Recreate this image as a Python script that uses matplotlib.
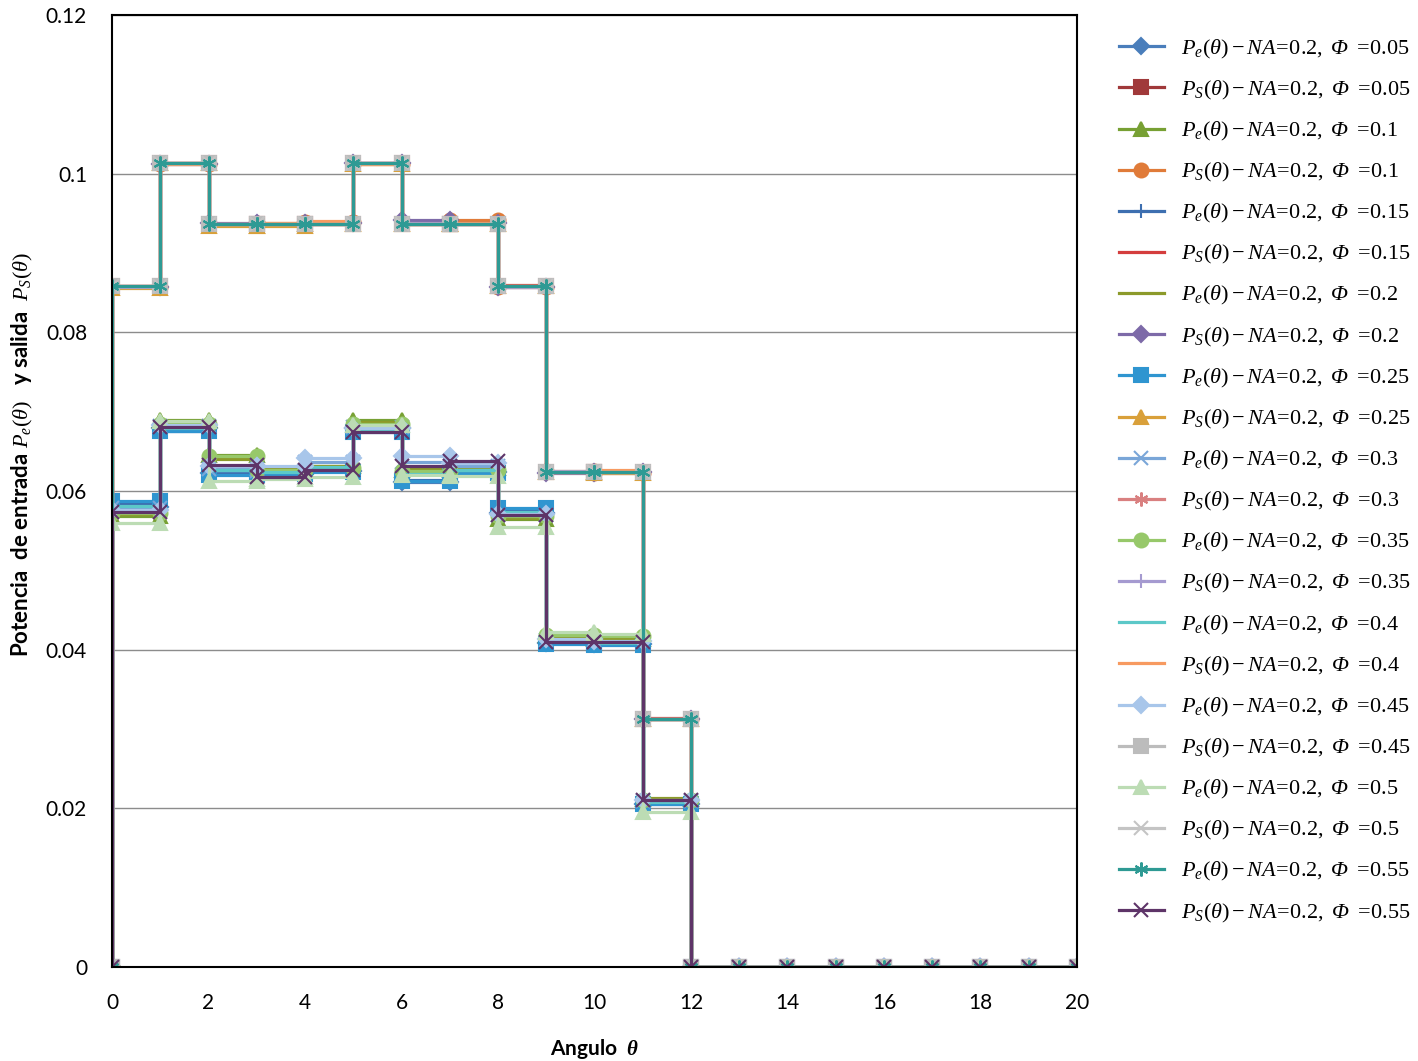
import matplotlib
matplotlib.use('Agg')
import matplotlib.pyplot as plt
import numpy as np

plt.rcParams['mathtext.fontset'] = 'custom'
plt.rcParams['mathtext.rm'] = 'Liberation Serif'
plt.rcParams['mathtext.it'] = 'Liberation Serif:italic'
plt.rcParams['mathtext.sf'] = 'Liberation Serif:italic'
plt.rcParams['mathtext.bf'] = 'Liberation Serif:bold'
plt.rcParams['mathtext.bfit'] = 'Liberation Serif:italic:bold'

# angulo theta (bordes de los escalones)
theta_edges = list(range(0, 21))
n_bins = 12

phi = ['0.05', '0.1', '0.15', '0.2', '0.25', '0.3', '0.35', '0.4', '0.45', '0.5', '0.55']

# Pe(theta) para phi 0.05 .. 0.55
pe_values = [
    [0.0580, 0.0679, 0.0623, 0.0622, 0.0625, 0.0679, 0.0611, 0.0624, 0.0572, 0.0408, 0.0407, 0.0206],
    [0.0569, 0.0689, 0.0645, 0.0630, 0.0631, 0.0690, 0.0627, 0.0629, 0.0565, 0.0418, 0.0414, 0.0212],
    [0.0583, 0.0676, 0.0621, 0.0620, 0.0626, 0.0676, 0.0614, 0.0625, 0.0577, 0.0409, 0.0409, 0.0207],
    [0.0571, 0.0686, 0.0640, 0.0628, 0.0632, 0.0687, 0.0629, 0.0630, 0.0566, 0.0416, 0.0413, 0.0213],
    [0.0587, 0.0675, 0.0620, 0.0621, 0.0624, 0.0674, 0.0612, 0.0623, 0.0579, 0.0407, 0.0406, 0.0205],
    [0.0578, 0.0682, 0.0628, 0.0625, 0.0636, 0.0681, 0.0636, 0.0632, 0.0570, 0.0412, 0.0410, 0.0209],
    [0.0572, 0.0684, 0.0644, 0.0627, 0.0629, 0.0685, 0.0625, 0.0627, 0.0568, 0.0419, 0.0417, 0.0211],
    [0.0581, 0.0679, 0.0626, 0.0624, 0.0630, 0.0678, 0.0622, 0.0626, 0.0574, 0.0411, 0.0408, 0.0208],
    [0.0576, 0.0683, 0.0631, 0.0631, 0.0642, 0.0680, 0.0644, 0.0635, 0.0571, 0.0414, 0.0411, 0.0210],
    [0.0560, 0.0688, 0.0612, 0.0615, 0.0618, 0.0683, 0.0620, 0.0619, 0.0555, 0.0422, 0.0420, 0.0195],
    [0.0858, 0.1013, 0.0937, 0.0937, 0.0937, 0.1013, 0.0937, 0.0937, 0.0858, 0.0624, 0.0624, 0.0313],
]

# Ps(theta) para phi 0.05 .. 0.55
ps_values = [
    [0.0858, 0.1013, 0.0937, 0.0937, 0.0937, 0.1013, 0.0937, 0.0937, 0.0858, 0.0624, 0.0624, 0.0313],
    [0.0857, 0.1012, 0.0936, 0.0938, 0.0939, 0.1012, 0.0938, 0.0941, 0.0857, 0.0625, 0.0623, 0.0312],
    [0.0858, 0.1013, 0.0937, 0.0936, 0.0937, 0.1014, 0.0936, 0.0937, 0.0859, 0.0624, 0.0625, 0.0314],
    [0.0857, 0.1012, 0.0938, 0.0937, 0.0938, 0.1013, 0.0941, 0.0938, 0.0857, 0.0623, 0.0624, 0.0313],
    [0.0856, 0.1013, 0.0934, 0.0934, 0.0936, 0.1012, 0.0937, 0.0936, 0.0858, 0.0624, 0.0623, 0.0312],
    [0.0858, 0.1014, 0.0937, 0.0937, 0.0937, 0.1013, 0.0937, 0.0937, 0.0858, 0.0624, 0.0624, 0.0313],
    [0.0857, 0.1013, 0.0936, 0.0937, 0.0938, 0.1013, 0.0938, 0.0937, 0.0857, 0.0625, 0.0624, 0.0313],
    [0.0858, 0.1012, 0.0937, 0.0938, 0.0940, 0.1012, 0.0937, 0.0938, 0.0858, 0.0624, 0.0626, 0.0312],
    [0.0858, 0.1013, 0.0937, 0.0937, 0.0937, 0.1013, 0.0937, 0.0937, 0.0858, 0.0624, 0.0624, 0.0313],
    [0.0858, 0.1013, 0.0937, 0.0937, 0.0937, 0.1013, 0.0937, 0.0937, 0.0858, 0.0624, 0.0624, 0.0313],
    [0.0574, 0.0681, 0.0633, 0.0618, 0.0627, 0.0674, 0.0632, 0.0638, 0.0570, 0.0410, 0.0410, 0.0210],
]

# estilo excel: (color, marcador) para Pe y Ps en orden de phi
pe_styles = [('#4a7ebb', 'D'), ('#77a033', '^'), ('#3d6fb0', '+'), ('#8c9a2a', None),
             ('#2f95d0', 's'), ('#7aa6d8', 'x'), ('#97c86a', 'o'), ('#5cc8c8', None),
             ('#a8c6ea', 'D'), ('#bcdcb4', '^'), ('#2e9a94', (6, 2, 0))]
ps_styles = [('#a0393a', 's'), ('#e07b39', 'o'), ('#d43d3d', '_'), ('#7d6aa8', 'D'),
             ('#d9a03a', '^'), ('#d98080', (6, 2, 0)), ('#a59ad0', '+'), ('#f79a60', '_'),
             ('#bcbcbc', 's'), ('#c4c4c4', 'x'), ('#5e3468', 'x')]


def step_xy(vals):
    xs, ys = [0], [0.0]
    for i, v in enumerate(vals):
        xs += [i, i + 1]
        ys += [v, v]
    xs.append(n_bins)
    ys.append(0.0)
    for k in theta_edges[n_bins + 1:]:
        xs.append(k)
        ys.append(0.0)
    return xs, ys


fig = plt.figure(figsize=(14.18, 10.61), dpi=100)
ax = fig.add_axes([0.079, 0.0886, 0.6805, 0.8973])

for i, p in enumerate(phi):
    for kind, vals, st in (('e', pe_values[i], pe_styles[i]), ('S', ps_values[i], ps_styles[i])):
        xs, ys = step_xy(vals)
        color, mk = st
        lab = r'$P_{%s}(\theta)-NA\!=\!0.2,\ \mathsf{Φ}\ =\!%s$' % (kind, p)
        ax.plot(xs, ys, color=color, lw=2.3, marker=mk, ms=8 if mk == 'D' else 10,
                mec=color, mfc=color, mew=1.5, label=lab)

ax.set_xlim(0, 20)
ax.set_ylim(0, 0.12)
ax.set_xticks(np.arange(0, 21, 2))
ax.set_yticks([0, 0.02, 0.04, 0.06, 0.08, 0.1, 0.12])
ax.set_yticklabels(['0', '0.02', '0.04', '0.06', '0.08', '0.1', '0.12'])
ax.yaxis.grid(True, color='#8c8c8c', lw=1)
ax.set_axisbelow(True)
for s in ax.spines.values():
    s.set_color('black')
    s.set_linewidth(1.5)
ax.tick_params(length=0, labelsize=15)
ax.tick_params(axis='x', pad=19)
ax.tick_params(axis='y', pad=18)
for t in ax.get_xticklabels() + ax.get_yticklabels():
    t.set_family('Lato')

ax.set_xlabel(r'Angulo  $\boldsymbol{\theta}$', fontsize=15, fontweight='bold', family='Lato', labelpad=17)
ax.set_ylabel(r'Potencia  de entrada $P_e(\theta)$   y salida  $P_S(\theta)$', fontsize=16,
              fontweight='bold', family='Lato')
ax.yaxis.set_label_coords(-0.080, 0.538)

fig.legend(loc='upper left', bbox_to_anchor=(0.783, 0.973), frameon=False,
           fontsize=16, labelspacing=0.815, handlelength=2.0, handletextpad=0.8,
           borderaxespad=0)

fig.savefig('out.png', dpi=100)
